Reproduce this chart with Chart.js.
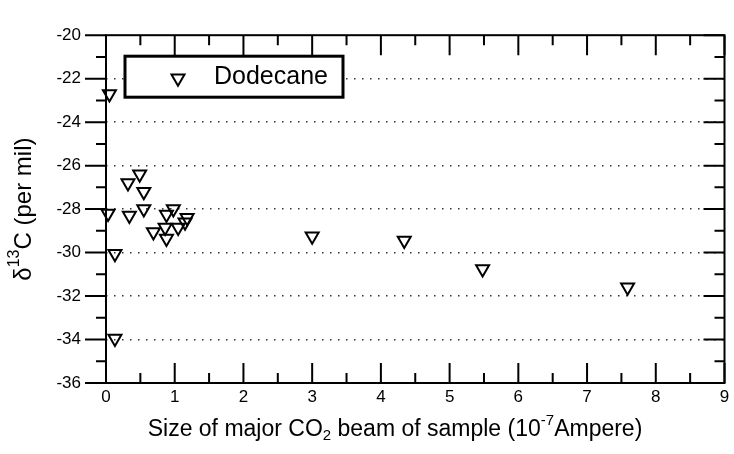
<!DOCTYPE html>
<html>
<head>
<meta charset="utf-8">
<script src="https://cdn.jsdelivr.net/npm/chart.js@4/dist/chart.umd.min.js"></script>
<style>
  body { margin: 0; background: #fff; }
  #wrap { width: 734px; height: 454px; }
</style>
</head>
<body>
<div id="wrap"><canvas id="chart" width="734" height="454"></canvas></div>
<script>
// beam size (10^-7 A) and d13C (per mil) for dodecane
var beamSize = [0.05, 0.03, 0.13, 0.13, 0.49, 0.32, 0.55, 0.34, 0.55, 0.98, 0.88, 1.18, 1.15, 0.86, 0.69, 1.05, 0.88, 3.0, 4.34, 5.48, 7.59];
var delta13C = [-22.7, -28.2, -30.05, -33.95, -26.4, -26.8, -27.2, -28.3, -28.0, -28.0, -28.25, -28.4, -28.6, -28.85, -29.05, -28.85, -29.35, -29.25, -29.45, -30.75, -31.6];
var seriesName = 'Dodecane';
var xTicks = [0, 1, 2, 3, 4, 5, 6, 7, 8, 9];
var yTicks = [-36, -34, -32, -30, -28, -26, -24, -22, -20];

var FONT = '"Liberation Sans", Arial, sans-serif';

var points = [];
for (var i = 0; i < beamSize.length; i++) {
    points.push({x: beamSize[i], y: delta13C[i]});
}

function drawRich(ctx, parts, size) {
    var small = Math.round(size * 0.65);
    var total = 0;
    parts.forEach(function (p) {
        ctx.font = (p.s ? small : size) + 'px ' + FONT;
        p.w = ctx.measureText(p.t).width;
        total += p.w;
    });
    var x = -total / 2;
    parts.forEach(function (p) {
        ctx.font = (p.s ? small : size) + 'px ' + FONT;
        var dy = 0;
        if (p.s === 'sup') dy = -size * 0.4;
        if (p.s === 'sub') dy = size * 0.25;
        ctx.fillText(p.t, x, dy);
        x += p.w;
    });
}

// frame, tick marks, legend and axis titles
var decorations = {
    id: 'decorations',
    afterDatasetsDraw: function (chart) {
        var ctx = chart.ctx;
        var a = chart.chartArea;
        var xs = chart.scales.x, ys = chart.scales.y;
        ctx.save();
        ctx.strokeStyle = '#000';
        ctx.lineWidth = 2;
        ctx.beginPath();
        var v, px, len;
        for (v = -36; v <= -20; v++) {
            px = ys.getPixelForValue(v);
            len = (v % 2 === 0) ? 21 : 10;
            ctx.moveTo(a.left - len, px); ctx.lineTo(a.left, px);
            ctx.moveTo(a.right - len, px); ctx.lineTo(a.right, px);
        }
        for (v = 0; v <= 18; v++) {
            px = xs.getPixelForValue(v / 2);
            len = (v % 2 === 0) ? 20 : 10;
            ctx.moveTo(px, a.top); ctx.lineTo(px, a.top + len);
            ctx.moveTo(px, a.bottom); ctx.lineTo(px, a.bottom - len);
        }
        ctx.stroke();
        ctx.strokeRect(a.left, a.top, a.right - a.left, a.bottom - a.top);

        // legend box
        var lx = a.left + 19, ly = a.top + 21, lw = 218, lh = 41;
        ctx.fillStyle = '#fff';
        ctx.fillRect(lx, ly, lw, lh);
        ctx.lineWidth = 3;
        ctx.strokeRect(lx, ly, lw, lh);
        var ds = chart.data.datasets[0];
        ctx.lineWidth = ds.pointBorderWidth;
        ctx.strokeStyle = '#000';
        var r = ds.pointRadius, cx = lx + 53, cy = ly + 22;
        ctx.beginPath();
        ctx.moveTo(cx, cy + r);
        ctx.lineTo(cx - r * Math.sqrt(3) / 2, cy - r / 2);
        ctx.lineTo(cx + r * Math.sqrt(3) / 2, cy - r / 2);
        ctx.closePath();
        ctx.stroke();
        ctx.fillStyle = '#000';
        ctx.font = '25px ' + FONT;
        ctx.textBaseline = 'middle';
        ctx.textAlign = 'left';
        ctx.fillText(ds.label, lx + 89, ly + 21);

        // axis titles
        ctx.textBaseline = 'middle';
        ctx.save();
        ctx.translate(24, (a.top + a.bottom) / 2);
        ctx.rotate(-Math.PI / 2);
        drawRich(ctx, [{t: 'δ'}, {t: '13', s: 'sup'}, {t: 'C (per mil)'}], 24);
        ctx.restore();
        ctx.save();
        ctx.translate(395, 430);
        drawRich(ctx, [{t: 'Size of major CO'}, {t: '2', s: 'sub'}, {t: ' beam of sample (10'}, {t: '-7', s: 'sup'}, {t: 'Ampere)'}], 23);
        ctx.restore();
        ctx.restore();
    }
};

var chart = new Chart(document.getElementById('chart'), {
    type: 'scatter',
    data: {
        datasets: [{
            label: seriesName,
            data: points,
            clip: false,
            pointStyle: 'triangle',
            rotation: 180,
            pointRadius: 7.5,
            pointHoverRadius: 7.5,
            pointBorderWidth: 2,
            borderColor: '#000',
            backgroundColor: 'rgba(0,0,0,0)'
        }]
    },
    options: {
        responsive: false,
        animation: false,
        devicePixelRatio: 1,
        layout: {padding: {top: 23, right: 7, left: 0, bottom: 0}},
        plugins: {legend: {display: false}, tooltip: {enabled: false}},
        scales: {
            x: {
                type: 'linear',
                min: xTicks[0],
                max: xTicks[xTicks.length - 1],
                afterBuildTicks: function (s) { s.ticks = xTicks.map(function (t) { return {value: t}; }); },
                afterFit: function (s) { s.height = 71; },
                ticks: {padding: 4, color: '#000', font: {family: FONT, size: 17}},
                grid: {display: false, drawTicks: false},
                border: {display: false}
            },
            y: {
                min: yTicks[0],
                max: yTicks[yTicks.length - 1],
                afterBuildTicks: function (s) { s.ticks = yTicks.map(function (t) { return {value: t}; }); },
                afterFit: function (s) { s.width = 106; },
                ticks: {padding: 25, color: '#000', font: {family: FONT, size: 17}},
                grid: {
                    drawTicks: false,
                    lineWidth: 1.5,
                    color: function (c) {
                        var val = c.tick && c.tick.value;
                        return (val === -20 || val === -36) ? 'rgba(0,0,0,0)' : '#333';
                    }
                },
                border: {display: false, dash: [1.5, 6.5]}
            }
        }
    },
    plugins: [decorations]
});
</script>
</body>
</html>
